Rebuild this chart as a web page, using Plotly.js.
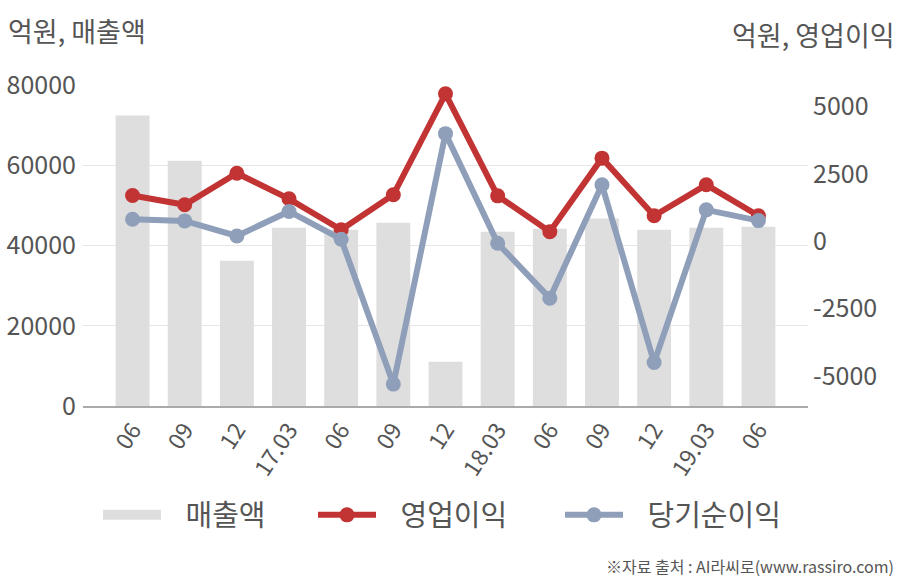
<!DOCTYPE html>
<html>
<head>
<meta charset="utf-8">
<script src="https://cdn.plot.ly/plotly-3.0.1.min.js"></script>
<style>html,body{margin:0;padding:0;background:#fff;}#chart{width:908px;height:580px;}</style>
</head>
<body>
<div id="chart"></div>
<script>
const categories = ["06", "09", "12", "17.03", "06 ", "09 ", "12 ", "18.03", "06  ", "09  ", "12  ", "19.03", "06   "];
const tickLabels = ["06", "09", "12", "17.03", "06", "09", "12", "18.03", "06", "09", "12", "19.03", "06"];
const revenue = [72400, 61100, 36200, 44400, 43900, 45650, 11000, 43400, 44200, 46700, 43900, 44400, 44700];
const operatingProfit = [1700, 1360, 2530, 1580, 430, 1730, 5480, 1690, 360, 3090, 950, 2100, 950];
const netProfit = [820, 760, 200, 1110, 80, -5300, 4000, -70, -2110, 2100, -4500, 1170, 770];
const seriesNames = ["매출액", "영업이익", "당기순이익"];

const FONT = '"Noto Sans CJK KR", "Noto Sans", sans-serif';
const idx = categories.map((c, i) => i);
const IW = 58;
const PAD = '\u00a0\u00a0\u00a0';

const traces = [
  {
    type: 'bar', name: seriesNames[0], x: idx, y: revenue, showlegend: false,
    marker: {color: '#dedede'}, width: 0.65, yaxis: 'y', hoverinfo: 'y'
  },
  {
    type: 'scatter', mode: 'lines', name: PAD + seriesNames[0], x: [null], y: [null],
    line: {color: '#dedede', width: 22}, legend: 'legend'
  },
  {
    type: 'scatter', mode: 'lines+markers', name: PAD + seriesNames[1], x: idx, y: operatingProfit,
    line: {color: '#c23434', width: 6}, marker: {color: '#c23434', size: 15}, yaxis: 'y2', legend: 'legend2'
  },
  {
    type: 'scatter', mode: 'lines+markers', name: PAD + seriesNames[2], x: idx, y: netProfit,
    line: {color: '#8f9fba', width: 6}, marker: {color: '#8f9fba', size: 15}, yaxis: 'y2', legend: 'legend3'
  }
];

function leg(symX) {
  return {
    orientation: 'h', xref: 'container', yref: 'container',
    x: (symX - 5) / 908, xanchor: 'left', y: 1 - 515 / 580, yanchor: 'middle',
    font: {size: 29, color: '#555', family: FONT},
    itemwidth: IW, bgcolor: 'rgba(0,0,0,0)'
  };
}

const layout = {
  width: 908, height: 580,
  margin: {l: 83, r: 100, t: 85, b: 174},
  paper_bgcolor: '#fff', plot_bgcolor: '#fff',
  font: {family: FONT, color: '#555', size: 24},
  showlegend: true,
  xaxis: {
    range: [-0.95, 12.95], tickmode: 'array', tickvals: idx, ticktext: tickLabels,
    tickangle: -57, showgrid: false, zeroline: false, showline: true,
    linecolor: '#aaaaaa', linewidth: 1.5, ticks: '', tickfont: {size: 23, color: '#555'}
  },
  yaxis: {
    range: [0, 80000], tickvals: [0, 20000, 40000, 60000, 80000], ticktext: ['0','20000','40000','60000','80000'],
    showgrid: true, gridcolor: '#e6e6e6', gridwidth: 1, zeroline: false, showline: false,
    ticks: '', tickfont: {size: 25, color: '#555'}, ticklabelstandoff: 6, automargin: false
  },
  yaxis2: {
    overlaying: 'y', side: 'right', range: [-6114, 5806],
    tickvals: [-5000, -2500, 0, 2500, 5000], ticktext: ['-5000','-2500','0','2500','5000'],
    showgrid: false, zeroline: false, showline: false, ticks: '',
    tickfont: {size: 25, color: '#555'}, ticklabelstandoff: 4, automargin: false
  },
  legend: leg(103),
  legend2: leg(318),
  legend3: leg(565),
  annotations: [
    {text: '억원, 매출액', xref: 'paper', yref: 'paper', x: (6-83)/725, y: 1 + 55/321,
     xanchor: 'left', yanchor: 'middle', showarrow: false, font: {size: 27, color: '#555', family: FONT}},
    {text: '억원, 영업이익', xref: 'paper', yref: 'paper', x: (897-83)/725, y: 1 + 50/321,
     xanchor: 'right', yanchor: 'middle', showarrow: false, font: {size: 27, color: '#555', family: FONT}},
    {text: '※자료 출처 : AI라씨로(www.rassiro.com)', xref: 'paper', yref: 'paper', x: (896-83)/725, y: -(566-406)/321,
     xanchor: 'right', yanchor: 'middle', showarrow: false, font: {size: 16, color: '#555', family: FONT}}
  ]
};

Plotly.newPlot('chart', traces, layout, {displayModeBar: false, staticPlot: true});
</script>
</body>
</html>
